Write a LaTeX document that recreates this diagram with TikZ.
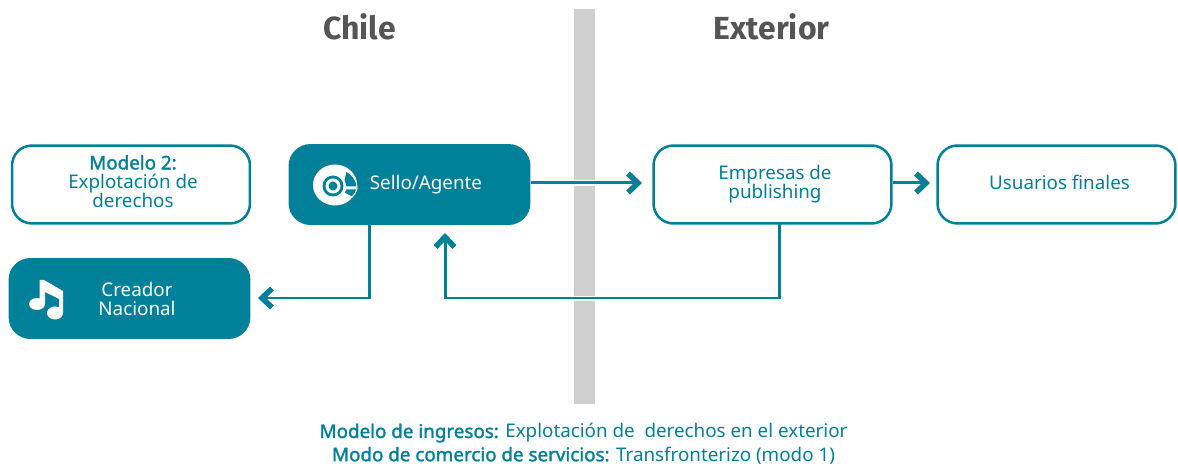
\documentclass[tikz,border=0pt]{standalone}
\usepackage{fontspec}
\setmainfont{Noto Sans}[BoldFont={Noto Sans},BoldFeatures={FakeBold=1.6}]
\newfontfamily\titlefont{Fira Sans}
\usetikzlibrary{arrows.meta}
\definecolor{teal1}{HTML}{008099}
\definecolor{gray1}{HTML}{CFCFCF}
\definecolor{gray2}{HTML}{555555}
\tikzset{
  outbox/.style={draw=teal1, line width=0.05cm, fill=white, rounded corners=0.4cm, minimum width=4.76cm, minimum height=1.56cm, inner sep=0pt},
  boxtext/.style={text=teal1, align=center, inner sep=0pt, font=\fontsize{10.7}{10.9}\selectfont},
  solidbox/.style={fill=teal1, rounded corners=0.44cm, minimum width=4.84cm, minimum height=1.62cm, inner sep=0pt},
  solidtext/.style={text=white, align=center, inner sep=0pt, font=\fontsize{10.7}{10.9}\selectfont},
  flow/.style={draw=teal1, line width=0.06cm, -{Straight Barb[length=0.2cm,width=0.38cm,line width=0.11cm]}},
  gapline/.style={draw=white, line width=0.11cm},
  heading/.style={text=gray2, inner sep=0pt, font=\titlefont\bfseries\fontsize{18.2}{20}\selectfont},
  note/.style={text=teal1, inner sep=0pt, font=\fontsize{10.7}{11}\selectfont}
}
\begin{document}
\begin{tikzpicture}[x=0.02cm,y=-0.02cm]
\useasboundingbox (0,0) rectangle (1178,466);
\fill[gray1] (574,9) rectangle (595,404);
\node[heading] (chile) at (359.5,27) {Chile};
\node[heading] (exterior) at (771.5,27) {Exterior};
\node[outbox] (modelo) at (131,184.5) {};
\node[boxtext] (modelotext) at (133,181.5) {\textbf{Modelo 2:}\\Explotación de\\derechos};
\node[solidbox] (sello) at (409.5,184.5) {};
\node[solidtext] (sellotext) at (426,184.5) {Sello/Agente};
\node[outbox] (empresas) at (772.5,184.5) {};
\node[boxtext] (empresastext) at (775,184.5) {Empresas de\\publishing};
\node[outbox] (usuarios) at (1056.5,184.5) {};
\node[boxtext] (usuariostext) at (1059.5,182.5) {Usuarios finales};
\node[solidbox] (creador) at (129.5,298.5) {};
\node[solidtext] (creadortext) at (137,299) {Creador\\Nacional};
% disc
\fill[white] (335,185) ellipse[x radius=22, y radius=20.5];
\fill[teal1] (333,186) circle[radius=10.5];
\fill[white] (333,186) circle[radius=7.5];
\fill[teal1] (333,186) circle[radius=4.5];
\draw[white, fill=teal1, line width=0.02cm] (344,180)--(346,171)
  .. controls (352,174) and (357,180) .. (357,187)--(346,187)--cycle;
\draw[white, fill=teal1, line width=0.02cm] (346,189)--(357,189)
  .. controls (356,192) and (355,194) .. (352,197)--(344,193)--cycle;
% note
\fill[white] (39.5,280)--(44,280)--(63,291)--(63,313)--(59,313)--(59,299)--(45,292)--(45,303)--(39.5,303)--cycle;
\fill[white] (37,304) ellipse[x radius=8, y radius=6];
\fill[white] (55,313) ellipse[x radius=8, y radius=6.5];
% arrows
\coordinate (endempresas) at (642,183);
\coordinate (endusuarios) at (930,183);
\coordinate (endsello) at (445,233);
\coordinate (endcreador) at (258,298);
\coordinate (startsello) at (369.5,225);
\coordinate (cornersello) at (369.5,298);
\coordinate (startempresas) at (779,224);
\coordinate (cornerempresas) at (779,298);
\coordinate (cornerback) at (445,298);
\draw[gapline] (574,183)--(595,183);
\draw[gapline] (574,298.5)--(595,298.5);
\draw[flow] (sello.east |- endempresas)--(endempresas);
\draw[flow] (empresas.east |- endusuarios)--(endusuarios);
\draw[flow] (startsello)--(cornersello)--(endcreador);
\draw[flow] (startempresas)--(cornerempresas)--(cornerback)--(endsello);
\node[note] (ingresos) at (583.5,433) {\textbf{Modelo de ingresos:} Explotación de\ \ derechos en el exterior};
\node[note] (modo) at (583.5,455.5) {\textbf{Modo de comercio de servicios:} Transfronterizo (modo 1)};
\end{tikzpicture}
\end{document}
